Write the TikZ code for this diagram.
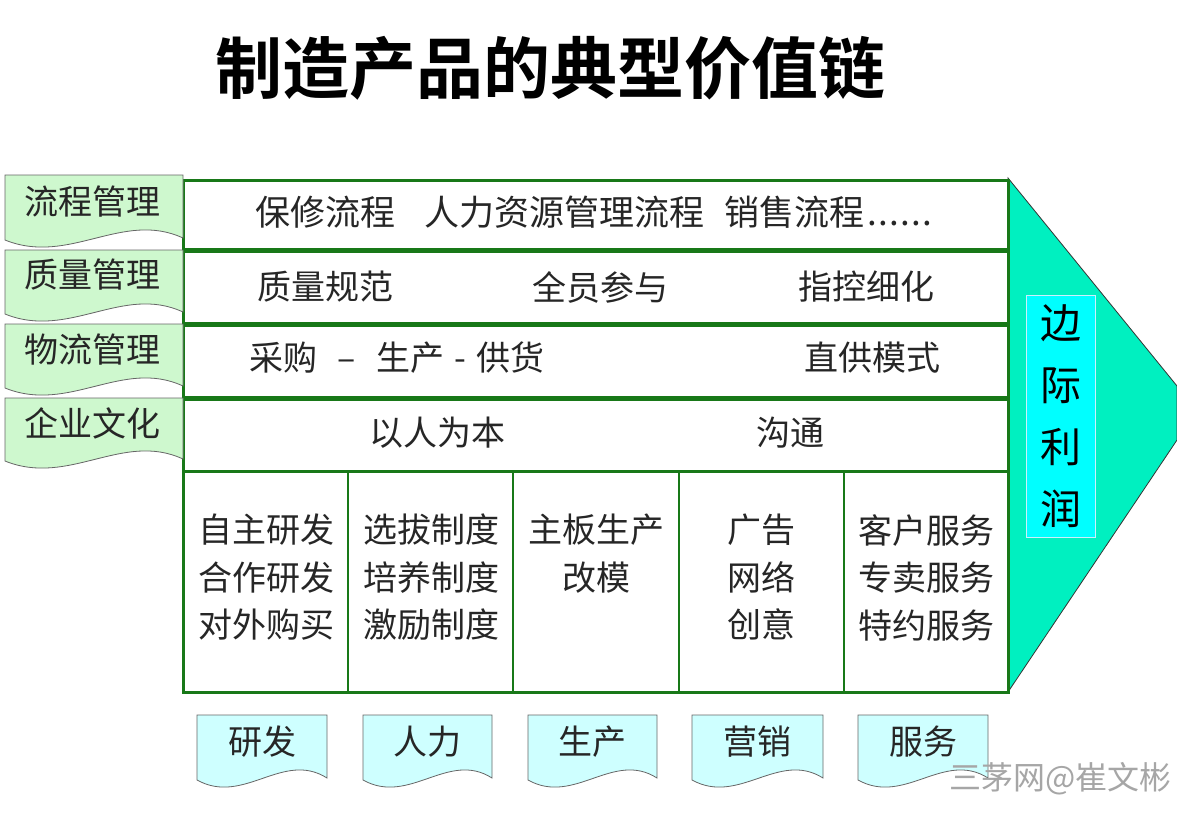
\documentclass[tikz,border=0pt]{standalone}
\usepackage{fontspec}
\setmainfont{Noto Sans CJK SC}
\newfontfamily\cjkbold{Noto Sans CJK SC Bold}
\definecolor{dgreen}{RGB}{24,120,24}
\definecolor{lgreen}{RGB}{206,248,206}
\definecolor{lcyan}{RGB}{206,255,255}
\definecolor{turq}{RGB}{0,240,192}
\definecolor{cyanbox}{RGB}{0,255,255}
\newcommand{\docshape}[5]{%
  \path[#5] (#1,#3) -- (#2,#3) -- (#2,{#4-2})
    .. controls ({#1+(#2-#1)*0.66},{#4-30}) and ({#1+(#2-#1)*0.36},{#4+26}) .. (#1,#4) -- cycle;}
\begin{document}
\begin{tikzpicture}[x=1pt,y=-1pt,
  rowbox/.style={draw=dgreen,line width=3pt,fill=white},
  lbl/.style={draw=gray!80!black,line width=0.8pt,fill=lgreen},
  blbl/.style={draw=gray!80!black,line width=0.8pt,fill=lcyan},
  txt/.style={font=\fontsize{34}{38}\selectfont,inner sep=0pt,text=black!85},
  coltxt/.style={font=\fontsize{34}{47.5}\selectfont,inner sep=0pt,align=center,text=black!85}]
\useasboundingbox (0,0) rectangle (1177,819);
\fill[white] (0,0) rectangle (1177,819);
% title
\node[font=\cjkbold\fontsize{67}{72}\selectfont,inner sep=0pt] (title) at (550,68) {制造产品的典型价值链};
% triangle
\draw[fill=turq,draw=black!80,line width=0.8pt] (1008,178) -- (1177,386) -- (1177,440) -- (1008,692) -- cycle;
\node[draw=white!80!cyan,line width=0.6pt,fill=cyanbox,minimum width=69pt,minimum height=242pt,inner sep=0pt,align=center,font=\fontsize{41}{62}\selectfont] (profit) at (1061,416) {边\\际\\利\\润};
% rows
\draw[rowbox] (183,180) rectangle (1008,249);
\draw[rowbox] (183,251) rectangle (1008,323);
\draw[rowbox] (183,325) rectangle (1008,397);
\draw[rowbox] (183,399) rectangle (1008,471);
\draw[rowbox] (183,471) rectangle (1008,692);
\foreach \cx in {348,513,679,844} \draw[dgreen,line width=2pt] (\cx,471) -- (\cx,692);
% left labels
\docshape{5}{183}{175}{240}{lbl}
\docshape{5}{183}{250}{314}{lbl}
\docshape{5}{183}{324}{388}{lbl}
\docshape{5}{183}{398}{461}{lbl}
\node[txt] (l1) at (92,202) {流程管理};
\node[txt] (l2) at (92,275) {质量管理};
\node[txt] (l3) at (92,350) {物流管理};
\node[txt] (l4) at (92,423) {企业文化};
% row texts
\node[txt,font=\fontsize{35}{38}\selectfont,anchor=west] (r1) at (255,212) {保修流程\hspace{0.85em}人力资源管理流程\hspace{0.55em}销售流程\makebox[2em][s]{\hspace{0.1em}.\hfill.\hfill.\hfill.\hfill.\hfill.\hspace{0.05em}}};
\node[txt] (r2a) at (325,287) {质量规范};
\node[txt] (r2b) at (600,287) {全员参与};
\node[txt] (r2c) at (866,287) {指控细化};
\node[txt,anchor=west] (r3a) at (249,358) {采购\hspace{0.6em}–\hspace{0.6em}生产\hspace{0.3em}-\hspace{0.3em}供货};
\node[txt] (r3b) at (872,358) {直供模式};
\node[txt] (r4a) at (437,433) {以人为本};
\node[txt] (r4b) at (790,433) {沟通};
% column texts
\node[coltxt,anchor=north] (c1) at (266,514) {自主研发\\合作研发\\对外购买};
\node[coltxt,anchor=north] (c2) at (431,514) {选拔制度\\培养制度\\激励制度};
\node[coltxt,anchor=north] (c3) at (596,514) {主板生产\\改模};
\node[coltxt,anchor=north] (c4) at (761,514) {广告\\网络\\创意};
\node[coltxt,anchor=north] (c5) at (926,514) {客户服务\\专卖服务\\特约服务};
% bottom labels
\docshape{197}{327}{715}{780}{blbl}
\docshape{363}{492}{715}{780}{blbl}
\docshape{528}{657}{715}{780}{blbl}
\docshape{692}{823}{715}{780}{blbl}
\docshape{858}{988}{715}{780}{blbl}
\node[txt] (b1) at (262,742) {研发};
\node[txt] (b2) at (427,742) {人力};
\node[txt] (b3) at (592,742) {生产};
\node[txt] (b4) at (757,742) {营销};
\node[txt] (b5) at (923,742) {服务};
% watermark
\node[font=\fontsize{32}{36}\selectfont,inner sep=0pt,text=gray!70,anchor=east] (wm) at (1172,779) {三茅网@崔文彬};
\end{tikzpicture}
\end{document}
